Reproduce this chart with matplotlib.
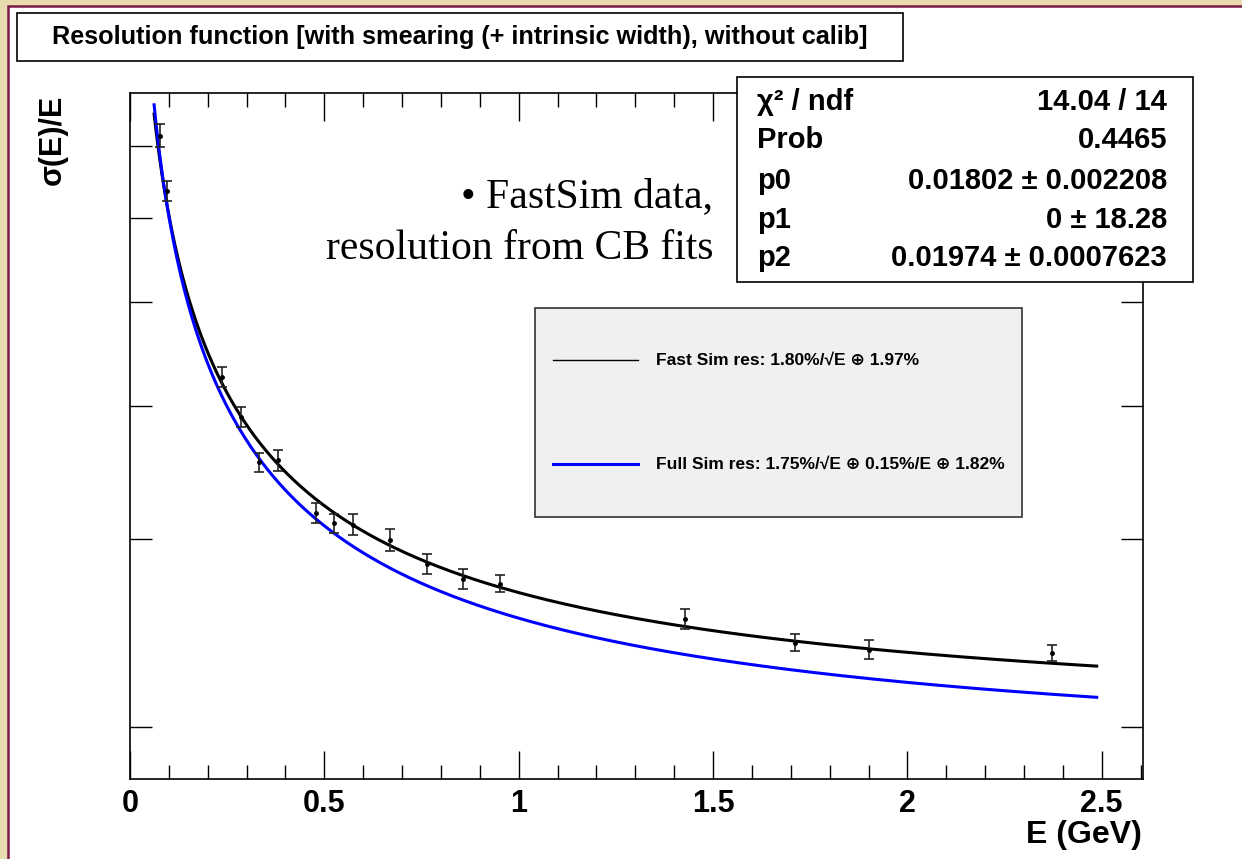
import numpy as np
import matplotlib
matplotlib.use("Agg")
import matplotlib.pyplot as plt
from matplotlib.patches import Rectangle
from matplotlib.lines import Line2D
from matplotlib.ticker import FixedLocator, NullFormatter, NullLocator, MultipleLocator

# ---------------- data ----------------
energy = [0.077, 0.095, 0.237, 0.285, 0.332, 0.380, 0.478, 0.524, 0.573,
          0.668, 0.763, 0.856, 0.951, 1.429, 1.710, 1.900, 2.373]
resolution = [0.0716, 0.0635, 0.04254, 0.03902, 0.03541, 0.03557, 0.03173,
              0.03105, 0.03095, 0.02993, 0.02842, 0.02752, 0.02725, 0.02524,
              0.02400, 0.02364, 0.02346]
res_err = [0.00178, 0.00137, 0.00092, 0.00084, 0.00073, 0.00080, 0.00068,
           0.00064, 0.00070, 0.00071, 0.00061, 0.00059, 0.00050, 0.00054,
           0.00044, 0.00048, 0.00040]

# fit parameters (stochastic, noise, constant)
fast_params = [0.01802, 0.0, 0.01974]
full_params = [0.0175, 0.0015, 0.0182]
curve_range = [0.062, 2.487]

stat_labels = ["χ² / ndf", "Prob", "p0", "p1", "p2"]
stat_values = ["14.04 / 14", "0.4465", "0.01802 ± 0.002208", "0 ± 18.28",
               "0.01974 ± 0.0007623"]
legend_labels = ["Fast Sim res: 1.80%/√E ⊕ 1.97%",
                 "Full Sim res: 1.75%/√E ⊕ 0.15%/E ⊕ 1.82%"]
x_ticks = [0, 0.5, 1, 1.5, 2, 2.5]
x_ticklabels = ["0", "0.5", "1", "1.5", "2", "2.5"]
y_ticks = [0.02, 0.03, 0.04, 0.05, 0.06, 0.07]

title = "Resolution function [with smearing (+ intrinsic width), without calib]"

# ---------------- figure ----------------
W, H = 1242, 859
fig = plt.figure(figsize=(W / 100, H / 100), dpi=100)
fig.patch.set_facecolor("#e8dbae")

SANS = ["Liberation Sans", "DejaVu Sans"]
SERIF = ["Liberation Serif", "DejaVu Serif"]


def fx(x):
    return x / W


def fy(y):
    return 1 - y / H


# white canvas with maroon border (only left and top edges visible)
fig.patches.append(Rectangle((fx(8), -0.2), 1.3, fy(6) + 0.2,
                             transform=fig.transFigure,
                             facecolor="white", edgecolor="#7a1c45", lw=1.8,
                             zorder=-5))

ax = fig.add_axes([fx(130), fy(779), (1143.3 - 130) / W, (779 - 93) / H])
ax.set_facecolor("white")
ax.set_yscale("log")
ax.set_xlim(0, 2.607)
ax.set_ylim(0.01788, 0.0785)

E = np.linspace(curve_range[0], curve_range[1], 500)


def reso(e, p):
    return np.sqrt(p[0] ** 2 / e + p[1] ** 2 / e ** 2 + p[2] ** 2)


ax.plot(E, reso(E, full_params), color="#0000ff", lw=2.2, zorder=3)
ax.plot(E, reso(E, fast_params), color="black", lw=2.2, zorder=2)
ax.errorbar(energy, resolution, yerr=res_err, fmt="o", ms=2.5, color="black",
            ecolor="#222222", elinewidth=1.2, capsize=3.5, capthick=1.2, zorder=4)

ax.yaxis.set_major_locator(FixedLocator(y_ticks))
ax.yaxis.set_minor_locator(NullLocator())
ax.yaxis.set_major_formatter(NullFormatter())
ax.yaxis.set_minor_formatter(NullFormatter())
ax.tick_params(axis="y", which="both", direction="in", length=16, width=1.0,
               left=True, right=True, labelleft=False)

ax.set_xticks(x_ticks)
ax.set_xticklabels(x_ticklabels)
ax.xaxis.set_minor_locator(MultipleLocator(0.1))
ax.tick_params(axis="x", which="major", direction="in", length=20, width=1.0,
               top=True, bottom=True, pad=7)
ax.tick_params(axis="x", which="minor", direction="in", length=10, width=1.0,
               top=True, bottom=True)
for lab in ax.get_xticklabels():
    lab.set_fontfamily(SANS)
    lab.set_fontweight("bold")
    lab.set_fontsize(22)
for sp in ax.spines.values():
    sp.set_linewidth(1.2)

# axis titles
fig.text(fx(1142), fy(843), "E (GeV)", ha="right", va="baseline",
         fontsize=23, fontweight="bold", family=SANS)
fig.text(fx(53), fy(95), "σ(E)/E", ha="center", va="top", rotation=90,
         fontsize=22, fontweight="bold", family=SANS)

# title box
fig.patches.append(Rectangle((fx(17), fy(61)), (903 - 17) / W, (61 - 13) / H,
                             transform=fig.transFigure, facecolor="white",
                             edgecolor="black", lw=1.2, zorder=5))
fig.text(fx(460), fy(37), title, ha="center", va="center", fontsize=18.2,
         fontweight="bold", family=SANS, zorder=6)

# annotation text
fig.text(fx(713), fy(197), "• FastSim data,", ha="right", va="center",
         fontsize=30, family=SERIF, zorder=6)
fig.text(fx(713), fy(249), "resolution from CB fits", ha="right", va="center",
         fontsize=30, family=SERIF, zorder=6)

# stats box
fig.patches.append(Rectangle((fx(737), fy(282)), (1193 - 737) / W, (282 - 77) / H,
                             transform=fig.transFigure, facecolor="white",
                             edgecolor="black", lw=1.2, zorder=5))
baselines = [110, 148.5, 189, 228, 266.5]
for lab, val, yb in zip(stat_labels, stat_values, baselines):
    fig.text(fx(757), fy(yb), lab, ha="left", va="baseline", fontsize=21,
             fontweight="bold", family=SANS, zorder=6)
    fig.text(fx(1167), fy(yb), val, ha="right", va="baseline", fontsize=21,
             fontweight="bold", family=SANS, zorder=6)

# legend box
fig.patches.append(Rectangle((fx(535), fy(517)), (1022 - 535) / W, (517 - 308) / H,
                             transform=fig.transFigure, facecolor="#f0f0f0",
                             edgecolor="#333333", lw=1.2, zorder=5))
leg_colors = ["black", "#0000ff"]
leg_widths = [1.0, 2.2]
leg_y = [360, 464]
for lab, col, lw, yy in zip(legend_labels, leg_colors, leg_widths, leg_y):
    fig.lines.append(Line2D([fx(553), fx(638)], [fy(yy), fy(yy)],
                            transform=fig.transFigure, color=col, lw=lw,
                            zorder=6))
    fig.text(fx(656), fy(yy), lab, ha="left", va="center", fontsize=12.5,
             fontweight="bold", family=SANS, zorder=6)

fig.savefig("out.png", dpi=100, facecolor=fig.get_facecolor())
